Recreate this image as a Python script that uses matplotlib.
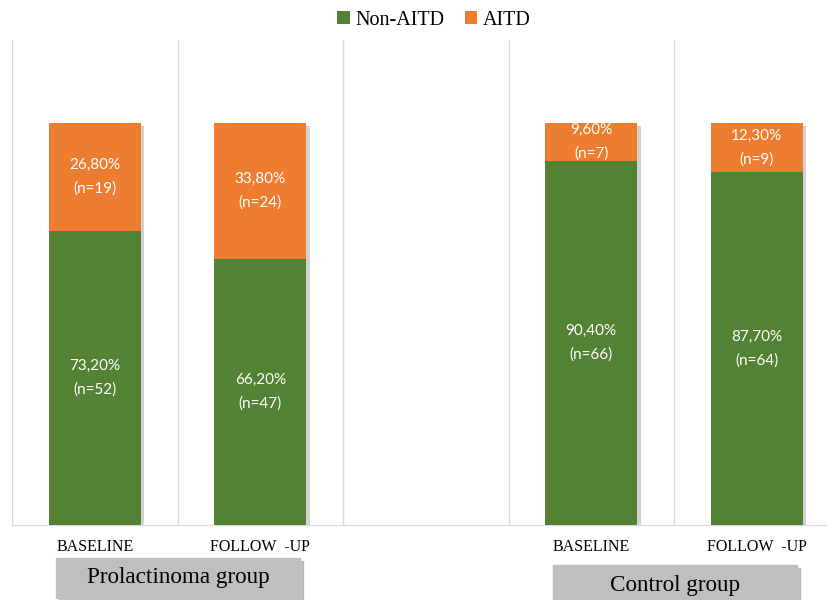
import matplotlib.pyplot as plt
from matplotlib import patheffects
from matplotlib.patches import Rectangle

# stacked 100% bars, third slot is an empty spacer
categories = ["BASELINE", "FOLLOW  -UP", "", "BASELINE", "FOLLOW  -UP"]
slots = [0, 1, 3, 4]
non_aitd = [73.2, 66.2, 90.4, 87.7]
aitd = [26.8, 33.8, 9.6, 12.3]
n_non = [52, 47, 66, 64]
n_aitd = [19, 24, 7, 9]
groups = ["Prolactinoma group", "Control group"]

green = "#548235"
orange = "#ED7D31"
serif = "Liberation Serif"
sans = "Lato"

fig = plt.figure(figsize=(8.28, 6), dpi=100)
ax = fig.add_axes([12 / 828, 75 / 600, 827.5 / 828, 485 / 600])

# soft shadow behind the whole stack
totals = [g + o for g, o in zip(non_aitd, aitd)]
sh = ax.bar(slots, totals, width=0.556, color=orange, zorder=2)
for b in sh:
    b.set_path_effects([patheffects.SimplePatchShadow(offset=(2.5, -2), shadow_rgbFace="gray", alpha=0.35),
                        patheffects.Normal()])
ax.bar(slots, non_aitd, width=0.556, color=green, label="Non-AITD", zorder=3)
ax.bar(slots, aitd, width=0.556, bottom=non_aitd, color=orange, label="AITD", zorder=3)

def fmt(v):
    return ("%.2f%%" % v).replace(".", ",")

for x, g, o, ng, no in zip(slots, non_aitd, aitd, n_non, n_aitd):
    ax.text(x, g / 2, fmt(g) + "\n(n=%d)" % ng, ha="center", va="center",
            color="white", fontsize=11, family=sans, linespacing=1.85, zorder=4)
    ax.text(x, g + o / 2, fmt(o) + "\n(n=%d)" % no, ha="center", va="center",
            color="white", fontsize=11, family=sans, linespacing=1.85, zorder=4)

ax.set_xlim(-0.5, 4.5)
ax.set_ylim(0, 120.6)
ax.set_xticks(range(len(categories)))
ax.set_xticklabels(categories, family=serif, fontsize=11.5)
ax.tick_params(axis="x", length=0, pad=10)
ax.set_yticks([])
for x in [-0.5, 0.5, 1.5, 2.5, 3.5, 4.5]:
    ax.axvline(x, color="#d9d9d9", lw=1, zorder=1)
for s in ["top", "right", "left"]:
    ax.spines[s].set_visible(False)
ax.spines["bottom"].set_color("#d9d9d9")

h, l = ax.get_legend_handles_labels()
fig.legend(h, l, loc="upper center", bbox_to_anchor=(434 / 828, 1.012),
           ncol=2, frameon=False, handlelength=0.6, handleheight=0.6, handletextpad=0.3,
           columnspacing=1.0, prop={"family": serif, "size": 14.5})

# group label boxes under the axis
boxes = [(56, 558, 244, 40), (553, 565, 244, 40)]
for (x0, y0, w, hh), name in zip(boxes, groups):
    fig.patches.append(Rectangle(((x0 + 3) / 828, 1 - (y0 + hh + 3) / 600), w / 828, hh / 600,
                                 transform=fig.transFigure, color="#8c8c8c", alpha=0.5, zorder=1))
    fig.patches.append(Rectangle((x0 / 828, 1 - (y0 + hh) / 600), w / 828, hh / 600,
                                 transform=fig.transFigure, color="#bfbfbf", zorder=2))
    fig.text((x0 + w / 2) / 828, 1 - (y0 + hh / 2) / 600, name, ha="center", va="center",
             family=serif, fontsize=16.7, zorder=3)

fig.savefig("out.png", dpi=100)
